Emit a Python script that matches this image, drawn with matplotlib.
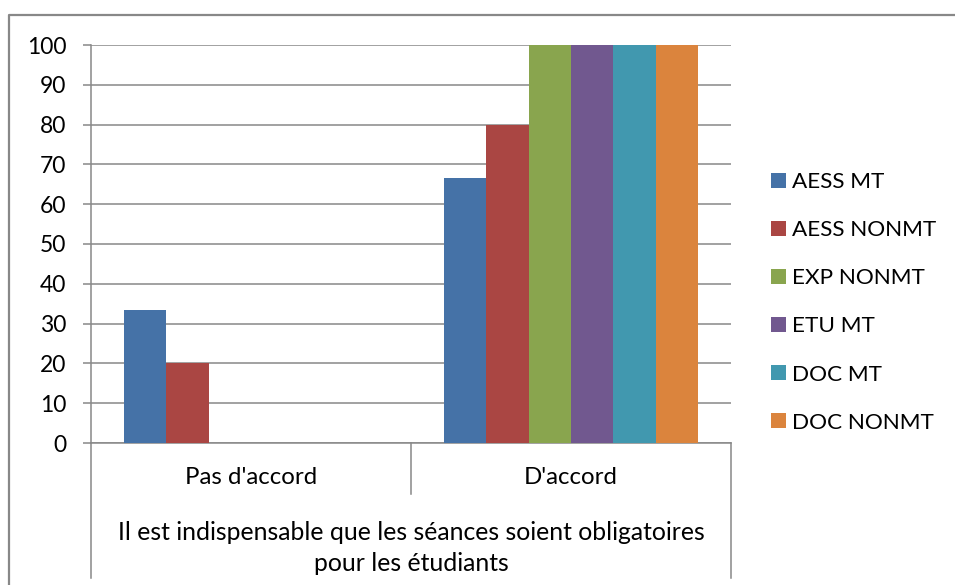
import matplotlib
matplotlib.use("Agg")
import matplotlib.pyplot as plt
from matplotlib.lines import Line2D
import numpy as np

plt.rcParams['font.family'] = ['Lato', 'DejaVu Sans']

categories = ["Pas d'accord", "D'accord"]
series_names = ["AESS MT", "AESS NONMT", "EXP NONMT", "ETU MT", "DOC MT", "DOC NONMT"]
values = {
    "AESS MT":    [33.33, 66.67],
    "AESS NONMT": [20.0, 80.0],
    "EXP NONMT":  [0.0, 100.0],
    "ETU MT":     [0.0, 100.0],
    "DOC MT":     [0.0, 100.0],
    "DOC NONMT":  [0.0, 100.0],
}
colors = ["#4572A7", "#AA4643", "#89A54E", "#71588F", "#4198AF", "#DB843D"]
y_ticks = list(range(0, 101, 10))
group_title = "Il est indispensable que les séances soient obligatoires\npour les étudiants"

W, H = 955, 585
fig = plt.figure(figsize=(W / 100, H / 100), dpi=100)
fig.patch.set_facecolor("white")

def fx(px):
    return px / W

def fy(py):
    return 1 - py / H

GRAY = "#888888"

# plot area
x0, x1, ytop, ybot = 91, 731, 45, 443
ax = fig.add_axes([fx(x0), fy(ybot), fx(x1) - fx(x0), fy(ytop) - fy(ybot)])

n = len(series_names)
bw = 0.1328
x = np.arange(len(categories))
handles = []
for i, name in enumerate(series_names):
    b = ax.bar(x + (i - (n - 1) / 2) * bw, values[name], width=bw,
               color=colors[i], edgecolor="none", zorder=3, label=name)
    handles.append(b)

ax.set_xlim(-0.5, 1.5)
ax.set_ylim(0, 100)
ax.set_yticks(y_ticks)
ax.set_yticklabels([str(v) for v in y_ticks], fontsize=16.5)
ax.tick_params(axis="y", length=5.8, width=1.1, color=GRAY, pad=12)
ax.yaxis.grid(True, color=GRAY, linewidth=1.1, zorder=0)
ax.set_axisbelow(True)

ax.set_xticks(x)
ax.set_xticklabels(categories, fontsize=17.3)
ax.tick_params(axis="x", length=0, pad=17)

for s in ["top", "right"]:
    ax.spines[s].set_visible(False)
for s in ["left", "bottom"]:
    ax.spines[s].set_color(GRAY)
    ax.spines[s].set_linewidth(1.1)

# multi-level category axis separators
def vline(px, py0, py1):
    fig.add_artist(Line2D([fx(px), fx(px)], [fy(py0), fy(py1)],
                          transform=fig.transFigure, color=GRAY, lw=1.1))

vline(x0, ybot, 578)
vline(411, ybot, 494)
vline(x1, ybot, 578)

fig.text(fx(411), fy(548), group_title, ha="center", va="center",
         fontsize=17.8, linespacing=1.38)

# outer chart frame
fig.add_artist(Line2D([fx(9), fx(9), 1.0], [0.0, fy(15), fy(15)],
                      transform=fig.transFigure, color=GRAY, lw=1.6))

leg = fig.legend(handles=handles, labels=series_names, loc="upper left",
                 bbox_to_anchor=(fx(771), fy(172)), frameon=False, fontsize=16.2,
                 handlelength=0.65, handleheight=0.65, handletextpad=0.3,
                 labelspacing=1.25, borderpad=0, borderaxespad=0)

fig.savefig("out.png", dpi=100)
